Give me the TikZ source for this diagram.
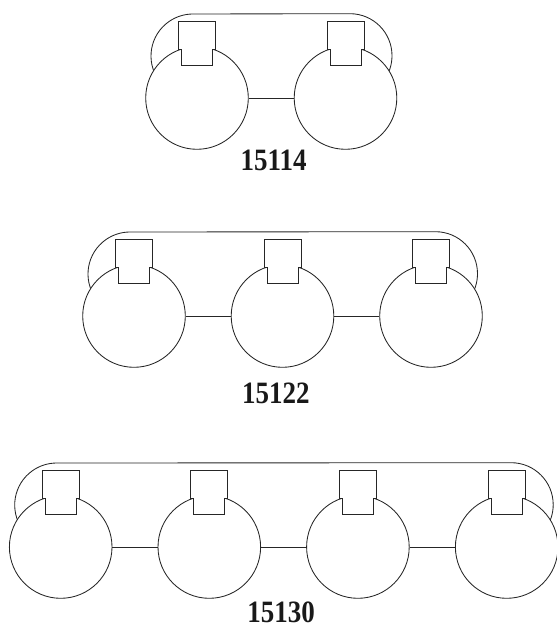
\documentclass[tikz,border=0pt]{standalone}
\usepackage{fontspec}
\setmainfont{Liberation Serif}
\tikzset{
  x=1pt,y=-1pt,
  line/.style={draw=black!85,line width=0.85pt},
  wheel/.style={circle,line,fill=white,minimum size=102.6pt,inner sep=0pt},
  lab/.style={inner sep=0pt,text=black!90,font=\fontsize{27}{27}\selectfont\bfseries},
}
% wheel with its tab: name, x, y
\newcommand{\wheelunit}[3]{%
  \node[wheel] (#1) at (#2,#3) {};
  \draw[line,fill=white] (#1.center) ++(-18.5,-77) -- ++(37,0) -- ++(0,28) -- ++(-3,0) -- ++(0,16.3) -- ++(-31,0) -- ++(0,-16.3) -- ++(-3,0) -- cycle;
}
% band: left wheel x, right wheel x, wheel y
\newcommand{\bandline}[3]{%
  \draw[line] ({#1-4-42*cos(35)},{#3-42+42*sin(35)}) arc[start angle=215,end angle=90,radius=42,y radius=-42]
    -- ({#2+4.5},{#3-84.3}) arc[start angle=90,end angle=-35,radius=42,y radius=-42];
}
\begin{document}
\begin{tikzpicture}
\useasboundingbox (0,0) rectangle (556,628);
\bandline{197}{345.5}{98}
\wheelunit{a1}{197}{98}
\wheelunit{a2}{345.5}{98}
\draw[line] (a1) -- (a2);
\node[lab] (la) at (273.7,160.6) {\scalebox{1}[1.15]{15114}};
\bandline{134}{431}{316}
\wheelunit{b1}{134}{316}
\wheelunit{b2}{282.5}{316}
\wheelunit{b3}{431}{316}
\draw[line] (b1) -- (b2);
\draw[line] (b2) -- (b3);
\node[lab] (lb) at (275.8,393.4) {\scalebox{1}[1.15]{15122}};
\bandline{60.7}{506.7}{547}
\wheelunit{c1}{60.7}{547}
\wheelunit{c2}{209.3}{547}
\wheelunit{c3}{357.9}{547}
\wheelunit{c4}{506.7}{547}
\draw[line] (c1) -- (c2);
\draw[line] (c2) -- (c3);
\draw[line] (c3) -- (c4);
\node[lab] (lc) at (281,612.8) {\scalebox{1}[1.15]{15130}};
\end{tikzpicture}
\end{document}
